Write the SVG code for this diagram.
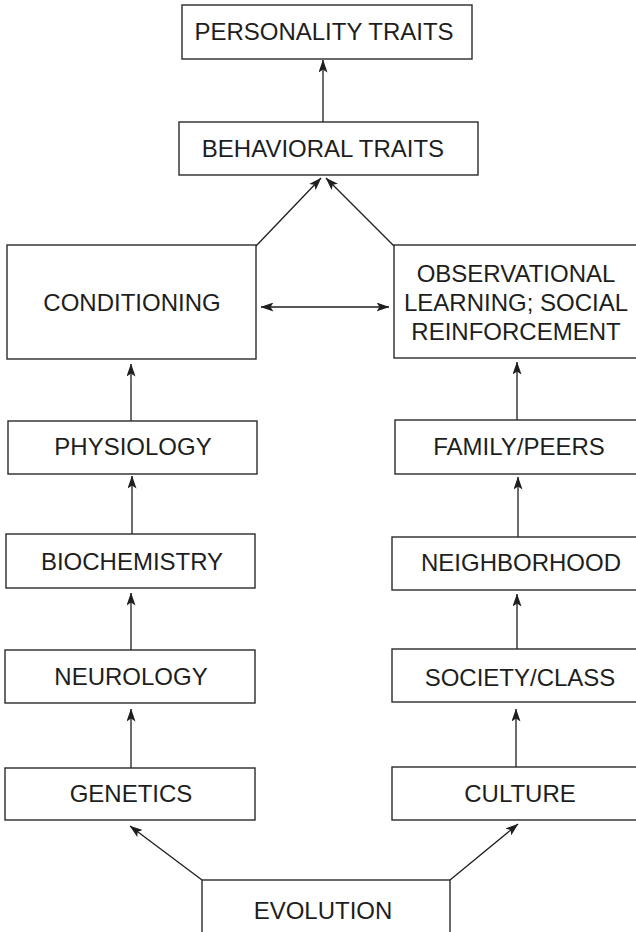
<svg xmlns="http://www.w3.org/2000/svg" width="636" height="932" viewBox="0 0 636 932">
  <style>
    .box { fill: #ffffff; stroke: #2a2a2a; stroke-width: 1.4; }
    .label { font-family: "Liberation Sans", Arial, sans-serif; font-size: 24px; fill: #1e1e1e; text-anchor: middle; }
    .edge { fill: none; stroke: #1e1e1e; stroke-width: 1.3; }
  </style>
  <defs>
    <marker id="head" viewBox="0 0 13 9" refX="12.5" refY="4.5" markerWidth="13" markerHeight="9" markerUnits="userSpaceOnUse" orient="auto-start-reverse">
      <path d="M0,0 L13,4.5 L0,9 L3,4.5 z" fill="#1e1e1e"/>
    </marker>
  </defs>
  <rect width="636" height="932" fill="#ffffff"/>

  <!-- connectors -->
  <g id="connectors">
    <line class="edge" x1="323" y1="122" x2="323" y2="60" marker-end="url(#head)"/>
    <line class="edge" x1="256" y1="246" x2="321" y2="178" marker-end="url(#head)"/>
    <line class="edge" x1="394" y1="246" x2="326" y2="178" marker-end="url(#head)"/>
    <line class="edge" x1="261" y1="307" x2="389" y2="307" marker-start="url(#head)" marker-end="url(#head)"/>
    <line class="edge" x1="131" y1="421" x2="131" y2="364" marker-end="url(#head)"/>
    <line class="edge" x1="132" y1="534" x2="132" y2="476" marker-end="url(#head)"/>
    <line class="edge" x1="131" y1="650" x2="131" y2="593" marker-end="url(#head)"/>
    <line class="edge" x1="131" y1="768" x2="131" y2="709" marker-end="url(#head)"/>
    <line class="edge" x1="202" y1="880" x2="130" y2="826" marker-end="url(#head)"/>
    <line class="edge" x1="450" y1="880" x2="518" y2="824" marker-end="url(#head)"/>
    <line class="edge" x1="516" y1="767" x2="516" y2="709" marker-end="url(#head)"/>
    <line class="edge" x1="517" y1="649" x2="517" y2="594" marker-end="url(#head)"/>
    <line class="edge" x1="518" y1="537" x2="518" y2="477" marker-end="url(#head)"/>
    <line class="edge" x1="517" y1="420" x2="517" y2="362" marker-end="url(#head)"/>
  </g>

  <!-- top of the chain -->
  <g id="personality">
    <rect class="box" x="182" y="5" width="290" height="54"/>
    <text class="label" x="324" y="40">PERSONALITY TRAITS</text>
  </g>
  <g id="behavioral">
    <rect class="box" x="179" y="122" width="299" height="53"/>
    <text class="label" x="323" y="157">BEHAVIORAL TRAITS</text>
  </g>

  <!-- biological column -->
  <g id="conditioning">
    <rect class="box" x="7" y="245" width="249" height="114"/>
    <text class="label" x="132" y="311">CONDITIONING</text>
  </g>
  <g id="physiology">
    <rect class="box" x="8" y="421" width="249" height="53"/>
    <text class="label" x="133" y="455">PHYSIOLOGY</text>
  </g>
  <g id="biochemistry">
    <rect class="box" x="6" y="534" width="249" height="54"/>
    <text class="label" x="132" y="570">BIOCHEMISTRY</text>
  </g>
  <g id="neurology">
    <rect class="box" x="5" y="650" width="250" height="53"/>
    <text class="label" x="131" y="685">NEUROLOGY</text>
  </g>
  <g id="genetics">
    <rect class="box" x="5" y="768" width="250" height="52"/>
    <text class="label" x="131" y="802">GENETICS</text>
  </g>

  <!-- social column -->
  <g id="observational">
    <rect class="box" x="394" y="245" width="252" height="113"/>
    <text class="label" x="516" y="282">OBSERVATIONAL</text>
    <text class="label" x="516" y="311">LEARNING; SOCIAL</text>
    <text class="label" x="516" y="340">REINFORCEMENT</text>
  </g>
  <g id="family">
    <rect class="box" x="395" y="420" width="252" height="54"/>
    <text class="label" x="519" y="455">FAMILY/PEERS</text>
  </g>
  <g id="neighborhood">
    <rect class="box" x="392" y="537" width="254" height="53"/>
    <text class="label" x="521" y="571">NEIGHBORHOOD</text>
  </g>
  <g id="society">
    <rect class="box" x="392" y="649" width="254" height="53"/>
    <text class="label" x="520" y="686">SOCIETY/CLASS</text>
  </g>
  <g id="culture">
    <rect class="box" x="392" y="767" width="254" height="53"/>
    <text class="label" x="520" y="802">CULTURE</text>
  </g>

  <!-- root -->
  <g id="evolution">
    <rect class="box" x="202" y="880" width="248" height="60"/>
    <text class="label" x="323" y="919">EVOLUTION</text>
  </g>
</svg>
